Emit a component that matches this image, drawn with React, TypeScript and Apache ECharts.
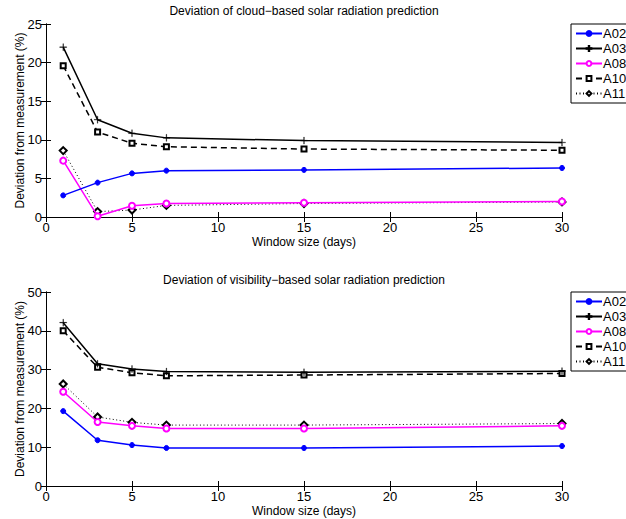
import React, { useEffect, useRef } from "react";
import * as echarts from "echarts";

const windowDays = [1, 3, 5, 7, 15, 30];
const stationNames = ["A02", "A03", "A08", "A10", "A11"];

// cloud-based deviation (%)
const cloudA02 = [2.8, 4.45, 5.65, 6.0, 6.1, 6.35];
const cloudA03 = [22.0, 12.6, 10.85, 10.25, 9.9, 9.65];
const cloudA08 = [7.3, 0.1, 1.45, 1.75, 1.85, 2.0];
const cloudA10 = [19.6, 11.0, 9.55, 9.1, 8.8, 8.65];
const cloudA11 = [8.6, 0.7, 0.9, 1.5, 1.75, 1.95];

// visibility-based deviation (%)
const visA02 = [19.3, 11.8, 10.55, 9.8, 9.8, 10.3];
const visA03 = [42.1, 31.5, 30.15, 29.5, 29.3, 29.6];
const visA08 = [24.3, 16.5, 15.5, 14.8, 14.8, 15.5];
const visA10 = [40.0, 30.6, 29.2, 28.4, 28.6, 29.0];
const visA11 = [26.3, 17.8, 16.4, 15.7, 15.7, 16.1];

const FONT = "Liberation Sans, Arial, Helvetica, sans-serif";
const PLUS = "path://M4.55,0H5.45V4.55H10V5.45H5.45V10H4.55V5.45H0V4.55H4.55Z";

const styles = [
  { color: "#0000ff", symbol: "circle", symbolSize: 5, lineType: "solid", width: 1.5, bw: 1 },
  { color: "#000000", symbol: PLUS, symbolSize: 7, lineType: "solid", width: 1.5, bw: 0.3 },
  { color: "#ff00ff", symbol: "emptyCircle", symbolSize: 6, lineType: "solid", width: 1.5, bw: 1.3 },
  { color: "#000000", symbol: "emptyRect", symbolSize: 5, lineType: [6, 4], width: 1.5, bw: 1.3 },
  { color: "#000000", symbol: "emptyDiamond", symbolSize: 7, lineType: [1, 2.5], width: 1, bw: 1.3 },
];

function makeSeries(values: number[][], gridIdx: number) {
  return values.map((vals, i) => {
    const s = styles[i];
    return {
      type: "line",
      name: stationNames[i],
      xAxisIndex: gridIdx * 2,
      yAxisIndex: gridIdx * 2,
      data: windowDays.map((d, k) => [d, vals[k]]),
      symbol: s.symbol,
      symbolSize: s.symbolSize,
      showAllSymbol: true,
      lineStyle: { color: s.color, width: s.width, type: s.lineType },
      itemStyle: { color: s.color, borderColor: s.color, borderWidth: s.bw },
      emphasis: { disabled: true },
      z: 5 - i,
    };
  });
}

export default function App() {
  const ref = useRef<HTMLDivElement>(null);
  useEffect(() => {
    if (!ref.current) return;
    const chart = echarts.init(ref.current, null, { renderer: "svg" });

    const grids = [
      { left: 46, top: 24, width: 516, height: 193 },
      { left: 46, top: 292, width: 516, height: 194 },
    ];
    const yMax = [25, 50];
    const yInt = [5, 10];

    const xAxes: any[] = [];
    const yAxes: any[] = [];
    grids.forEach((_, g) => {
      xAxes.push({
        type: "value",
        gridIndex: g,
        min: 0,
        max: 30,
        interval: 5,
        position: "bottom",
        name: "Window size (days)",
        nameLocation: "middle",
        nameGap: 19,
        nameTextStyle: { fontFamily: FONT, fontSize: 12, color: "#000" },
        axisLine: { show: true, lineStyle: { color: "#000", width: 1 } },
        axisTick: { show: true, inside: true, length: 5, lineStyle: { color: "#000" } },
        axisLabel: { fontFamily: FONT, fontSize: 13, color: "#000", margin: 4 },
        splitLine: { show: false },
      });
      xAxes.push({
        type: "value",
        gridIndex: g,
        min: 0,
        max: 30,
        interval: 5,
        position: "top",
        axisLine: { show: true, lineStyle: { color: "#000", width: 1 } },
        axisTick: { show: true, inside: true, length: 5, lineStyle: { color: "#000" } },
        axisLabel: { show: false },
        splitLine: { show: false },
      });
      yAxes.push({
        type: "value",
        gridIndex: g,
        min: 0,
        max: yMax[g],
        interval: yInt[g],
        position: "left",
        name: "Deviation from measurement (%)",
        nameLocation: "middle",
        nameGap: 20,
        nameMoveOverlap: false,
        nameTextStyle: { fontFamily: FONT, fontSize: 12, color: "#000" },
        axisLine: { show: true, lineStyle: { color: "#000", width: 1 } },
        axisTick: { show: true, inside: true, length: 5, lineStyle: { color: "#000" } },
        axisLabel: { fontFamily: FONT, fontSize: 13, color: "#000", margin: 4 },
        splitLine: { show: false },
      });
      yAxes.push({
        type: "value",
        gridIndex: g,
        min: 0,
        max: yMax[g],
        interval: yInt[g],
        position: "right",
        axisLine: { show: true, lineStyle: { color: "#000", width: 1 } },
        axisTick: { show: true, inside: true, length: 5, lineStyle: { color: "#000" } },
        axisLabel: { show: false },
        splitLine: { show: false },
      });
    });

    const legendBase = {
      data: stationNames,
      orient: "vertical",
      left: 571,
      itemWidth: 26,
      itemHeight: 6,
      itemGap: 2,
      padding: [3, 4, 3, 4],
      borderColor: "#000",
      borderWidth: 1,
      backgroundColor: "#fff",
      selectedMode: false,
      textStyle: { fontFamily: FONT, fontSize: 13, color: "#000", padding: [0, 0, 0, -4] },
    };

    chart.setOption({
      animation: false,
      backgroundColor: "#fff",
      title: [
        {
          text: "Deviation of cloud\u2212based solar radiation prediction",
          left: 304,
          top: 5,
          padding: 0,
          textAlign: "center",
          textStyle: { fontFamily: FONT, fontSize: 12, fontWeight: "normal", color: "#000" },
        },
        {
          text: "Deviation of visibility\u2212based solar radiation prediction",
          left: 304,
          top: 274,
          padding: 0,
          textAlign: "center",
          textStyle: { fontFamily: FONT, fontSize: 12, fontWeight: "normal", color: "#000" },
        },
      ],
      legend: [
        { ...legendBase, top: 24 },
        { ...legendBase, top: 292 },
      ],
      grid: grids,
      xAxis: xAxes,
      yAxis: yAxes,
      series: [
        ...makeSeries([cloudA02, cloudA03, cloudA08, cloudA10, cloudA11], 0),
        ...makeSeries([visA02, visA03, visA08, visA10, visA11], 1),
      ],
    });
    return () => chart.dispose();
  }, []);
  return (
    <div
      ref={ref}
      style={{ position: "fixed", left: 0, top: 0, width: 626, height: 519, background: "#fff" }}
    />
  );
}
